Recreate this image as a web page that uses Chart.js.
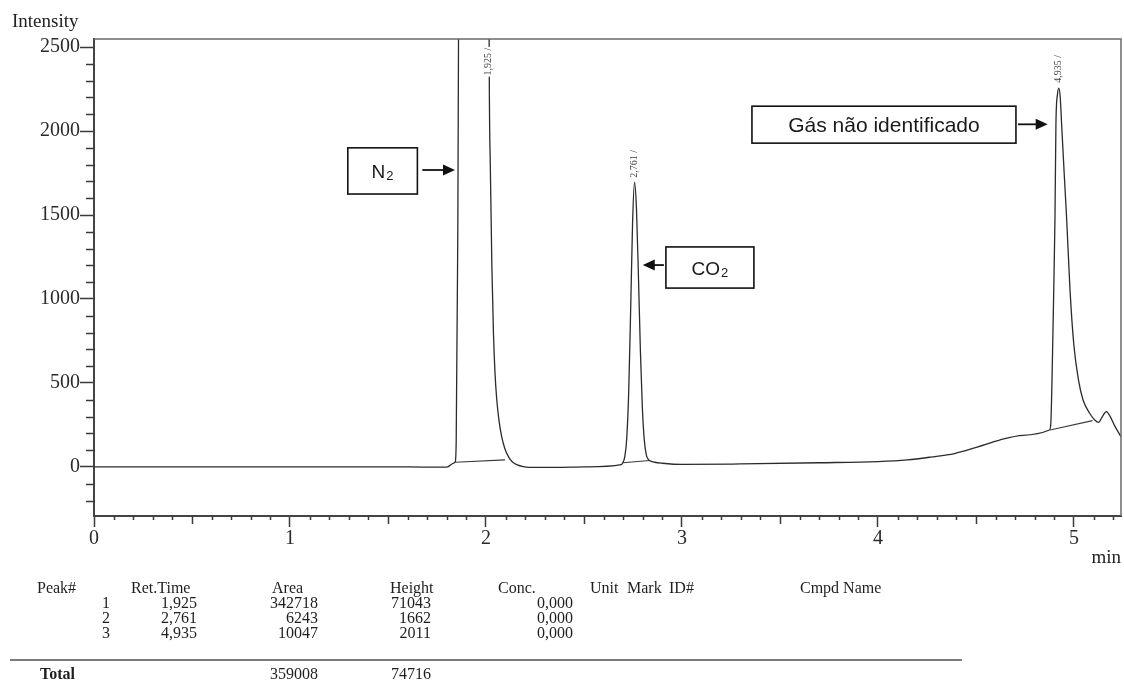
<!DOCTYPE html>
<html>
<head>
<meta charset="utf-8">
<script src="https://cdn.jsdelivr.net/npm/chart.js@4.4.1/dist/chart.umd.min.js"></script>
<style>
  html, body { margin: 0; padding: 0; background: #fff; }
  #wrap { position: relative; width: 1124px; height: 681px; overflow: hidden; }
  #chart { position: absolute; left: 0; top: 0; }
  .cell { position: absolute; font-family: "Liberation Serif", serif; font-size: 16px; line-height: 16px; color: #1e1e1e; white-space: nowrap; }
  .rule { position: absolute; left: 10px; width: 952px; top: 659px; height: 2px; background: #7a7a7a; }
</style>
</head>
<body>
<div id="wrap">
  <canvas id="chart" width="1124" height="681"></canvas>
  <div id="table"></div>
</div>
<script>
// signal du chromatogramme (min / intensité)
const times = [0, 0.4, 0.8, 1.2, 1.6, 1.80, 1.815, 1.83, 1.843, 1.848, 1.855, 1.86, 1.925,
  2.016, 2.022, 2.03, 2.038, 2.046, 2.055, 2.066, 2.08, 2.096, 2.115, 2.135, 2.16, 2.19, 2.22, 2.35, 2.5,
  2.69, 2.698, 2.708, 2.718, 2.728, 2.738, 2.748, 2.758, 2.768, 2.778, 2.788, 2.798, 2.808, 2.818, 2.828, 2.84, 2.86,
  2.9, 3.0, 3.3, 3.7, 4.0, 4.15, 4.27, 4.39, 4.51, 4.62, 4.74,
  4.875, 4.882, 4.888, 4.896, 4.903, 4.908, 4.916, 4.923, 4.93, 4.937, 4.95, 4.963, 4.98, 5.0, 5.023, 5.046,
  5.08, 5.106, 5.125, 5.145, 5.165, 5.185, 5.21, 5.24];
const intensity = [0, 1, 0, 1, 0, -1, 8, 20, 30, 150, 1200, 2600, 71043,
  2600, 1800, 1200, 800, 560, 400, 280, 180, 110, 60, 30, 12, 2, -2, -3, 0,
  14, 25, 60, 166, 441, 925, 1456, 1695, 1531, 1130, 686, 350, 157, 72, 45, 35, 28,
  22, 15, 18, 25, 32, 42, 59, 80, 120, 160, 188,
  220, 260, 518, 1000, 1470, 2040, 2220, 2256, 2200, 2040, 1750, 1470, 1050, 720, 518, 400,
  320, 280, 265, 300, 330, 300, 240, 180];

// lignes de base d'intégration
const baseStartT = [1.843, 2.698, 4.878];
const baseStartV = [28, 25, 220];
const baseEndT = [2.097, 2.837, 5.095];
const baseEndV = [42, 38, 276];

// étiquettes des pics
const peakLabels = ['1,925 /', '2,761 /', '4,935 /'];

// graduations
const xTicks = [0, 1, 2, 3, 4, 5];
const yTicks = [0, 500, 1000, 1500, 2000, 2500];

// tableau des résultats
const tableHeaders = ['Peak#', 'Ret.Time', 'Area', 'Height', 'Conc.', 'Unit', 'Mark', 'ID#', 'Cmpd Name'];
const peakNo = ['1', '2', '3'];
const retTime = ['1,925', '2,761', '4,935'];
const peakArea = ['342718', '6243', '10047'];
const peakHeight = ['71043', '1662', '2011'];
const peakConc = ['0,000', '0,000', '0,000'];
const totalArea = '359008';
const totalHeight = '74716';

const SERIF = '"Liberation Serif", "Times New Roman", serif';
const SANS = '"Liberation Sans", Arial, sans-serif';
const INK = '#2a2a2a';

// positions des annotations (en unités des axes)
const labelAnchors = [[2.012, 2330], [2.756, 1722], [4.923, 2288]];
const boxes = [
  { main: 'N', sub: '2', x0: 1.295, x1: 1.650, y0: 1900, y1: 1625, arrow: [1.665, 1.842, 1768] },
  { main: 'CO', sub: '2', x0: 2.918, x1: 3.367, y0: 1310, y1: 1065, arrow: [2.918, 2.800, 1202] },
  { main: 'Gás não identificado', sub: '', x0: 3.357, x1: 4.704, y0: 2148, y1: 1928, arrow: [4.704, 4.866, 2040] }
];

function arrowHead(ctx, x, y, dir) {
  ctx.beginPath();
  ctx.moveTo(x, y);
  ctx.lineTo(x - dir * 12, y - 5.5);
  ctx.lineTo(x - dir * 12, y + 5.5);
  ctx.closePath();
  ctx.fill();
}

const decor = {
  id: 'decor',
  afterDatasetsDraw(chart) {
    const { ctx, chartArea: a, scales: { x, y } } = chart;
    ctx.save();

    // cadre haut / droite
    ctx.strokeStyle = '#6a6a6a';
    ctx.lineWidth = 1.5;
    ctx.beginPath();
    ctx.moveTo(a.left, a.top);
    ctx.lineTo(a.right, a.top);
    ctx.lineTo(a.right, a.bottom);
    ctx.stroke();

    // petites graduations
    ctx.strokeStyle = '#3a3a3a';
    ctx.lineWidth = 1.5;
    ctx.beginPath();
    for (let i = 1; i <= 52; i++) {
      if (i % 10 === 0) continue;
      const px = Math.round(x.getPixelForValue(i / 10)) + 0.5;
      const len = i % 5 === 0 ? 8 : 4;
      ctx.moveTo(px, a.bottom);
      ctx.lineTo(px, a.bottom + len);
    }
    for (let v = -200; v <= 2500; v += 100) {
      if (v % 500 === 0) continue;
      const py = Math.round(y.getPixelForValue(v)) + 0.5;
      ctx.moveTo(a.left - 8, py);
      ctx.lineTo(a.left, py);
    }
    ctx.stroke();

    // étiquettes verticales des pics
    ctx.font = '10px ' + SERIF;
    peakLabels.forEach((txt, i) => {
      const px = x.getPixelForValue(labelAnchors[i][0]);
      const py = y.getPixelForValue(labelAnchors[i][1]);
      const w = ctx.measureText(txt).width;
      ctx.save();
      ctx.translate(px, py);
      ctx.rotate(-Math.PI / 2);
      ctx.fillStyle = '#fff';
      ctx.fillRect(-1, -4, w + 2, 8);
      ctx.fillStyle = '#444';
      ctx.textAlign = 'left';
      ctx.textBaseline = 'middle';
      ctx.fillText(txt, 0, 0);
      ctx.restore();
    });

    // boîtes d'identification
    boxes.forEach(b => {
      const l = x.getPixelForValue(b.x0), r = x.getPixelForValue(b.x1);
      const t = y.getPixelForValue(b.y0), btm = y.getPixelForValue(b.y1);
      ctx.fillStyle = '#fff';
      ctx.fillRect(l, t, r - l, btm - t);
      ctx.strokeStyle = '#111';
      ctx.lineWidth = 1.6;
      ctx.strokeRect(l, t, r - l, btm - t);

      const cy = (t + btm) / 2;
      const bigFont = b.sub ? '19px ' + SANS : '21px ' + SANS;
      ctx.font = bigFont;
      const wMain = ctx.measureText(b.main).width;
      ctx.font = '13px ' + SANS;
      const wSub = b.sub ? ctx.measureText(b.sub).width + 1 : 0;
      const sx = (l + r) / 2 - (wMain + wSub) / 2;
      ctx.fillStyle = '#1a1a1a';
      ctx.textAlign = 'left';
      ctx.textBaseline = 'alphabetic';
      ctx.font = bigFont;
      ctx.fillText(b.main, sx, cy + 7);
      if (b.sub) {
        ctx.font = '13px ' + SANS;
        ctx.fillText(b.sub, sx + wMain + 1, cy + 9);
      }

      // flèche
      const [ax0, ax1, av] = b.arrow;
      const p0 = x.getPixelForValue(ax0), p1 = x.getPixelForValue(ax1), pv = y.getPixelForValue(av);
      const dir = p1 > p0 ? 1 : -1;
      ctx.strokeStyle = '#111';
      ctx.lineWidth = 1.8;
      ctx.beginPath();
      ctx.moveTo(p0 + dir * 2, pv);
      ctx.lineTo(p1 - dir * 8, pv);
      ctx.stroke();
      ctx.fillStyle = '#111';
      arrowHead(ctx, p1, pv, dir);
    });

    // titres des axes
    ctx.fillStyle = '#222';
    ctx.font = '19px ' + SERIF;
    ctx.textAlign = 'left';
    ctx.textBaseline = 'middle';
    ctx.fillText('Intensity', 12, 22);
    ctx.textAlign = 'right';
    ctx.fillText('min', a.right, 558);

    ctx.restore();
  }
};

const signal = times.map((t, i) => ({ x: t, y: intensity[i] }));
const baselines = baseStartT.map((t, i) => ({
  data: [{ x: t, y: baseStartV[i] }, { x: baseEndT[i], y: baseEndV[i] }],
  borderColor: '#3a3a3a',
  borderWidth: 1.1,
  pointRadius: 0,
  clip: 0
}));

new Chart(document.getElementById('chart'), {
  type: 'line',
  data: {
    datasets: [{
      data: signal,
      borderColor: '#2b2b2b',
      borderWidth: 1.3,
      pointRadius: 0,
      cubicInterpolationMode: 'monotone',
      clip: 0
    }, ...baselines]
  },
  options: {
    responsive: false,
    animation: false,
    layout: { padding: { top: 39, right: 3, left: 0, bottom: 0 } },
    plugins: { legend: { display: false }, tooltip: { enabled: false } },
    scales: {
      x: {
        type: 'linear',
        min: 0,
        max: 5.24,
        afterBuildTicks: s => { s.ticks = xTicks.map(v => ({ value: v })); },
        afterFit: s => { s.height = 165; },
        ticks: { font: { family: SERIF, size: 20 }, color: INK, padding: 0, maxRotation: 0, autoSkip: false, callback: v => String(v) },
        grid: { drawOnChartArea: false, tickLength: 11, color: '#3a3a3a', tickWidth: 1.5 },
        border: { color: '#444', width: 2 }
      },
      y: {
        min: -292,
        max: 2548,
        afterBuildTicks: s => { s.ticks = yTicks.map(v => ({ value: v })); },
        afterFit: s => { s.width = 94; },
        ticks: { font: { family: SERIF, size: 20 }, color: INK, padding: 0, callback: v => String(v) },
        grid: { drawOnChartArea: false, tickLength: 14, color: '#3a3a3a', tickWidth: 1.5 },
        border: { color: '#444', width: 2 }
      }
    }
  },
  plugins: [decor]
});

// tableau sous le graphique
const table = document.getElementById('table');
function cell(text, pos, top, alignRight, bold) {
  const d = document.createElement('div');
  d.className = 'cell';
  d.textContent = text;
  d.style.top = (top - 8) + 'px';
  if (alignRight) d.style.right = (1124 - pos) + 'px';
  else d.style.left = pos + 'px';
  if (bold) d.style.fontWeight = 'bold';
  table.appendChild(d);
}
const headerLeft = [37, 131, 272, 390, 498, 590, 627, 669, 800];
tableHeaders.forEach((h, i) => cell(h, headerLeft[i], 588, false));
const rowY = [603, 618, 633];
const colRight = [110, 197, 318, 431, 573];
peakNo.forEach((_, r) => {
  [peakNo[r], retTime[r], peakArea[r], peakHeight[r], peakConc[r]].forEach((v, c) => cell(v, colRight[c], rowY[r], true));
});
const rule = document.createElement('div');
rule.className = 'rule';
table.appendChild(rule);
cell('Total', 40, 674, false, true);
cell(totalArea, 318, 674, true);
cell(totalHeight, 431, 674, true);
</script>
</body>
</html>
